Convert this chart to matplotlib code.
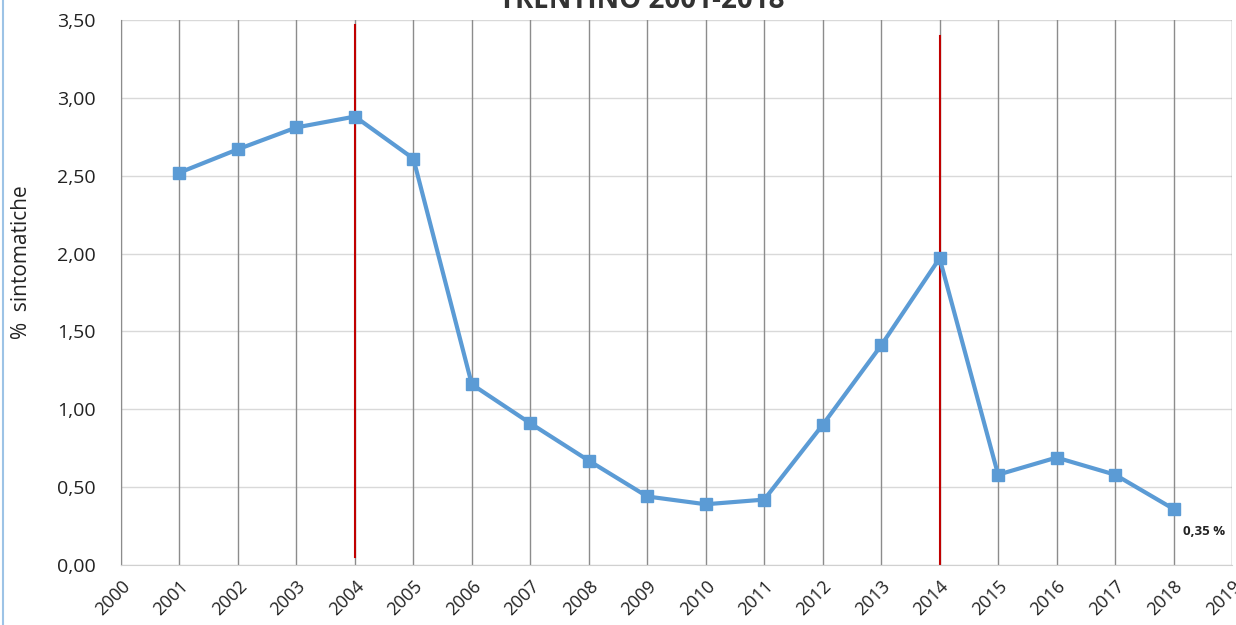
import matplotlib
matplotlib.use("Agg")
import matplotlib.pyplot as plt
from matplotlib.lines import Line2D

years = [2001, 2002, 2003, 2004, 2005, 2006, 2007, 2008, 2009, 2010,
         2011, 2012, 2013, 2014, 2015, 2016, 2017, 2018]
values = [2.52, 2.67, 2.81, 2.88, 2.61, 1.16, 0.91, 0.67, 0.44, 0.39,
          0.42, 0.90, 1.41, 1.97, 0.58, 0.69, 0.58, 0.36]
tick_years = list(range(2000, 2020))
y_ticks = [0.0, 0.5, 1.0, 1.5, 2.0, 2.5, 3.0, 3.5]
red_lines = [(2004, 0.05, 3.47), (2014, 0.0, 3.40)]
title = "TRENTINO 2001-2018"
ylabel = "%  sintomatiche"
last_label = "0,35 %"

plt.rcParams['font.family'] = ['Open Sans', 'DejaVu Sans']

fig = plt.figure(figsize=(12.36, 6.25), dpi=100)
ax = fig.add_axes([121/1236, 1-565/625, (1232-121)/1236, (565-20)/625])

ax.set_xlim(2000, 2019)
ax.set_ylim(0, 3.5)
ax.set_xticks(tick_years)
ax.set_xticklabels([str(y) for y in tick_years], rotation=45, ha='right',
                   rotation_mode='anchor', fontsize=13, color='#222222')
ax.set_yticks(y_ticks)
ax.set_yticklabels([f"{v:.2f}".replace('.', ',') for v in y_ticks],
                   fontsize=14, color='#222222')
ax.tick_params(axis='both', length=0)
ax.tick_params(axis='y', pad=18)
ax.tick_params(axis='x', pad=9)

for yv in y_ticks:
    ax.axhline(yv, color='#d9d9d9', lw=1, zorder=0)
for xv in tick_years:
    ax.axvline(xv, color='#8c8c8c', lw=1, zorder=0.5)

for spine in ['top', 'right']:
    ax.spines[spine].set_visible(False)
ax.spines['left'].set_color('#8c8c8c')
ax.spines['bottom'].set_color('#d0d0d0')

for xv, y0, y1 in red_lines:
    ax.plot([xv, xv], [y0, y1], color='#c00000', lw=1.5, zorder=1)

ax.plot(years, values, color='#5b9bd5', lw=3, marker='s', markersize=8,
        markerfacecolor='#5b9bd5', markeredgecolor='#5b9bd5', zorder=3,
        clip_on=False)

ax.annotate(last_label, xy=(years[-1], values[-1]), xytext=(7, -16),
            textcoords='offset points', fontsize=9.5, fontweight='bold',
            color='#222222', ha='left', va='center')

fig.text(22/1236, 1-262/625, ylabel, rotation=90, ha='center', va='center',
         fontsize=15, color='#222222')

fig.text(642/1236, 1-8/625, title, ha='center', va='baseline',
         fontsize=20, fontweight='bold', color='#333333')

fig.add_artist(Line2D([3/1236, 3/1236], [0, 1], color='#9dc3e6', lw=1.5,
                      transform=fig.transFigure))

fig.savefig("out.png", dpi=100)
